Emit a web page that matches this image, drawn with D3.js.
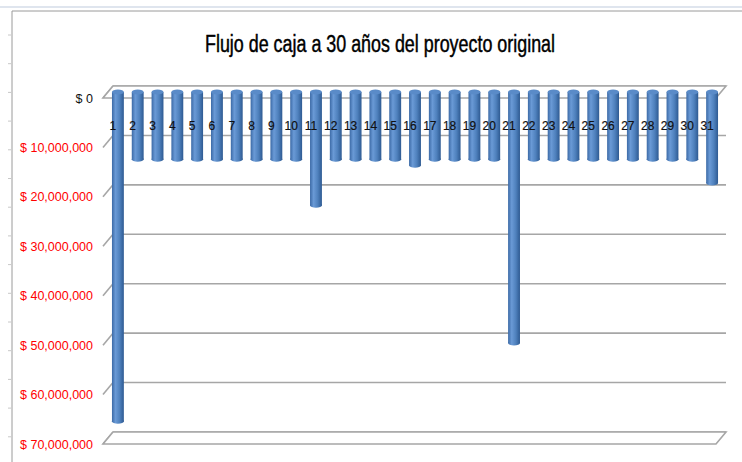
<!DOCTYPE html>
<html>
<head>
<meta charset="utf-8">
<script src="https://cdn.jsdelivr.net/npm/d3@7"></script>
<style>
  body { margin: 0; background: #fff; }
  svg { display: block; }
</style>
</head>
<body>
<div id="chart"></div>
<script>
// years 1..31 and the cash flow of each year (negative = outflow)
var years = d3.range(1, 32).map(String);
var flows = [
  -66.6e6, -13.6e6, -13.6e6, -13.6e6, -13.6e6, -13.6e6, -13.6e6, -13.6e6, -13.6e6, -13.6e6,
  -22.9e6, -13.6e6, -13.6e6, -13.6e6, -13.6e6, -14.8e6, -13.6e6, -13.6e6, -13.6e6, -13.6e6,
  -50.8e6, -13.6e6, -13.6e6, -13.6e6, -13.6e6, -13.6e6, -13.6e6, -13.6e6, -13.6e6, -13.6e6,
  -18.4e6
];
var yTicks = [0, -10e6, -20e6, -30e6, -40e6, -50e6, -60e6, -70e6];
var title = "Flujo de caja a 30 años del proyecto original";

var w = 742, h = 462;
var depthX = -10, depthY = 12;   // back wall -> front edge offset

var svg = d3.select("#chart").append("svg")
    .attr("width", w)
    .attr("height", h);

// back wall scale
var y = d3.scaleLinear().domain([0, -70e6]).range([86, 432]);
var wallLeft = 113, wallRight = 726;

// bar centres sit in the middle of the depth
var x = d3.scaleBand().domain(years).range([113, 727]).paddingInner(0.4).paddingOuter(0.2);

var defs = svg.append("defs");
var grad = defs.append("linearGradient").attr("id", "cyl")
    .attr("x1", "0%").attr("x2", "100%").attr("y1", "0%").attr("y2", "0%");
grad.append("stop").attr("offset", "0%").attr("stop-color", "#3c6aa6");
grad.append("stop").attr("offset", "30%").attr("stop-color", "#6a9ad6");
grad.append("stop").attr("offset", "65%").attr("stop-color", "#4f81bd");
grad.append("stop").attr("offset", "100%").attr("stop-color", "#2e5a92");

// sheet frame
svg.append("line").attr("x1", 0).attr("x2", w).attr("y1", 7).attr("y2", 7)
    .style("stroke", "#d5dde8").style("stroke-width", 1.5);
svg.append("line").attr("x1", 12).attr("x2", w).attr("y1", 11).attr("y2", 11)
    .style("stroke", "#9a9a9a").style("stroke-width", 1);
svg.append("line").attr("x1", 12).attr("x2", 12).attr("y1", 11).attr("y2", h)
    .style("stroke", "#9a9a9a").style("stroke-width", 1);
svg.selectAll("line.rowtick")
    .data(d3.range(35, h, 28.7))
    .enter().append("line")
    .attr("class", "rowtick")
    .attr("x1", 8).attr("x2", 11)
    .attr("y1", function(d) { return d; }).attr("y2", function(d) { return d; })
    .style("stroke", "#c8c8c8");

// gridlines on the back wall with the little front-left slant
var grid = svg.append("g")
    .style("stroke", "#a6a6a6").style("stroke-width", 1.6).style("fill", "none");

grid.selectAll("line.back")
    .data(yTicks)
    .enter().append("line")
    .attr("class", "back")
    .attr("x1", wallLeft).attr("x2", wallRight)
    .attr("y1", function(d) { return y(d); })
    .attr("y2", function(d) { return y(d); });

grid.selectAll("line.slant")
    .data(yTicks)
    .enter().append("line")
    .attr("class", "slant")
    .attr("x1", wallLeft).attr("x2", wallLeft + depthX)
    .attr("y1", function(d) { return y(d); })
    .attr("y2", function(d) { return y(d) + depthY; });

// floor planes at 0 and at the bottom
[0, -70e6].forEach(function(v) {
  var yb = y(v);
  grid.append("path")
      .attr("d", "M" + wallLeft + "," + yb +
                 "L" + wallRight + "," + yb +
                 "L" + (wallRight + depthX) + "," + (yb + depthY) +
                 "L" + (wallLeft + depthX) + "," + (yb + depthY) + "Z")
      .style("fill", "#fff");
});

// cylinders
var midX = depthX / 2, midY = depthY / 2;
var bw = x.bandwidth();
var bars = svg.append("g");
var bar = bars.selectAll("g.bar")
    .data(years.map(function(d, i) { return { year: d, value: flows[i] }; }))
    .enter().append("g").attr("class", "bar");

bar.append("rect")
    .attr("x", function(d) { return x(d.year) + midX; })
    .attr("y", y(0) + midY)
    .attr("width", bw)
    .attr("height", function(d) { return y(d.value) - y(0); })
    .style("fill", "url(#cyl)");

bar.append("ellipse")
    .attr("cx", function(d) { return x(d.year) + midX + bw / 2; })
    .attr("cy", function(d) { return y(d.value) + midY; })
    .attr("rx", bw / 2).attr("ry", 2.5)
    .style("fill", "url(#cyl)");

bar.append("ellipse")
    .attr("cx", function(d) { return x(d.year) + midX + bw / 2; })
    .attr("cy", y(0) + midY)
    .attr("rx", bw / 2).attr("ry", 2.5)
    .style("fill", "#5a8bc8");

// category labels on top of the bars
svg.append("g").selectAll("text")
    .data(years)
    .enter().append("text")
    .attr("x", function(d) { return x(d) + midX + bw / 2 - 5; })
    .attr("y", 130)
    .attr("text-anchor", "middle")
    .style("font-family", "'Liberation Sans Narrow', 'Liberation Sans', Arial, sans-serif")
    .style("font-size", "12px")
    .style("fill", "#111")
    .style("stroke", "#111").style("stroke-width", 0.2)
    .text(function(d) { return d; });

// value axis on the front edge
var yFront = d3.scaleLinear().domain(y.domain()).range(y.range().map(function(r) { return r + depthY; }));
var fmt = d3.format(",");
var axis = svg.append("g")
    .attr("transform", "translate(" + (wallLeft + depthX - 7) + ",0)")
    .call(d3.axisLeft(yFront).tickValues(yTicks).tickSize(0)
        .tickFormat(function(d) { return "$ " + fmt(Math.abs(d)); }));
axis.select(".domain").remove();
axis.selectAll("text")
    .style("font-family", "'Liberation Sans Narrow', 'Liberation Sans', Arial, sans-serif")
    .style("font-size", "12.5px")
    .style("fill", function(d) { return d < 0 ? "#ff0000" : "#111"; });

// title
svg.append("text")
    .attr("x", 380).attr("y", 52)
    .attr("text-anchor", "middle")
    .attr("textLength", 350)
    .attr("lengthAdjust", "spacingAndGlyphs")
    .style("font-family", "'Liberation Sans Narrow', 'Liberation Sans', Arial, sans-serif")
    .style("font-size", "23px")
    .style("fill", "#000")
    .style("stroke", "#000").style("stroke-width", 0.45)
    .text(title);
</script>
</body>
</html>
